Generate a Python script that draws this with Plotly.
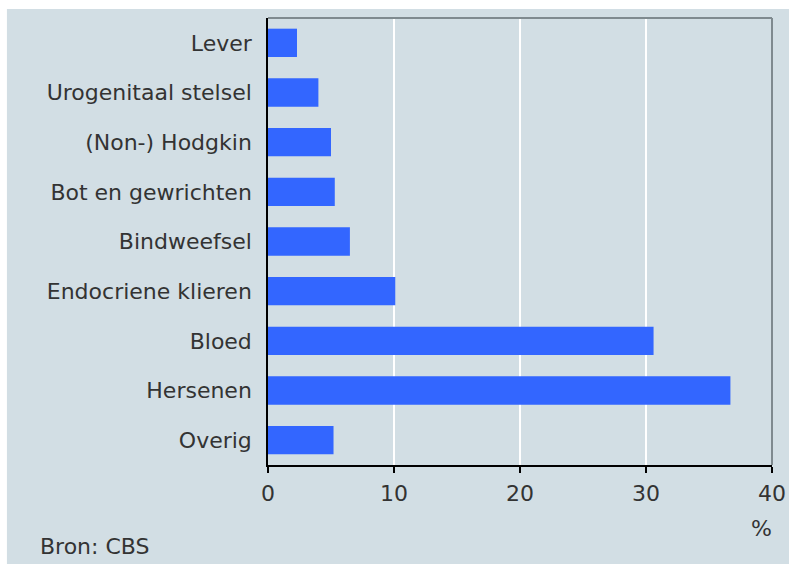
import plotly.graph_objects as go

categories = ["Lever", "Urogenitaal stelsel", "(Non-) Hodgkin", "Bot en gewrichten",
              "Bindweefsel", "Endocriene klieren", "Bloed", "Hersenen", "Overig"]
values = [2.3, 4.0, 5.0, 5.3, 6.5, 10.1, 30.6, 36.7, 5.2]
x_ticks = [0, 10, 20, 30, 40]
x_unit = "%"
source = "Bron: CBS"

BG = "#d2dee4"
BAR = "#3366ff"
TXT = "#333333"
FONT = "DejaVu Sans"
FS = 22

fig = go.Figure(go.Bar(
    y=categories, x=values, orientation="h",
    marker=dict(color=BAR, line=dict(width=0)),
    width=0.57,
))

fig.update_layout(
    width=789, height=564,
    margin=dict(l=268, r=17, t=18, b=99, autoexpand=False),
    paper_bgcolor=BG, plot_bgcolor=BG,
    showlegend=False,
    font=dict(family=FONT, size=FS, color=TXT),
    xaxis=dict(
        range=[0, 40], tickvals=x_ticks, ticktext=[str(t) for t in x_ticks],
        showgrid=True, gridcolor="white", gridwidth=2,
        showline=True, linecolor="black", linewidth=1.5,
        ticks="outside", ticklen=6, tickcolor="black", tickwidth=1.5,
        zeroline=False, fixedrange=True, ticklabelstandoff=2, automargin=False,
        tickfont=dict(family=FONT, size=FS, color=TXT),
    ),
    yaxis=dict(
        categoryorder="array", categoryarray=categories[::-1],
        showgrid=False, zeroline=False, automargin=False, fixedrange=True,
        showline=True, linecolor="black", linewidth=1.5,
        ticks="", ticklabelstandoff=10,
        tickfont=dict(family=FONT, size=FS, color=TXT),
    ),
    shapes=[
        dict(type="line", xref="paper", yref="paper", x0=0, x1=1, y0=1, y1=1,
             line=dict(color="#7f8a8f", width=2)),
        dict(type="line", xref="paper", yref="paper", x0=1, x1=1, y0=0, y1=1,
             line=dict(color="#7f8a8f", width=2)),
        dict(type="rect", xref="paper", yref="paper", x0=-0.54, x1=1.04, y0=1.0201, y1=1.05,
             fillcolor="white", line=dict(width=0), layer="above"),
        dict(type="rect", xref="paper", yref="paper", x0=-0.54, x1=-0.518, y0=-0.25, y1=1.05,
             fillcolor="white", line=dict(width=0), layer="above"),
    ],
    annotations=[
        dict(text=x_unit, xref="paper", yref="paper", x=0.98, y=-0.141,
             xanchor="center", yanchor="middle", showarrow=False,
             font=dict(family=FONT, size=FS, color=TXT)),
        dict(text=source, xref="paper", yref="paper", x=-0.456, y=-0.1834,
             xanchor="left", yanchor="middle", showarrow=False,
             font=dict(family=FONT, size=FS, color=TXT)),
    ],
)

post = ("document.body.style.margin='0';document.body.style.overflow='hidden';"
        "var gd=document.getElementById('{plot_id}');"
        "gd.style.width='789px';gd.style.height='564px';"
        "Plotly.relayout(gd,{width:789,height:564});")

fig.write_html("out.html", post_script=post, config={"displayModeBar": False})
